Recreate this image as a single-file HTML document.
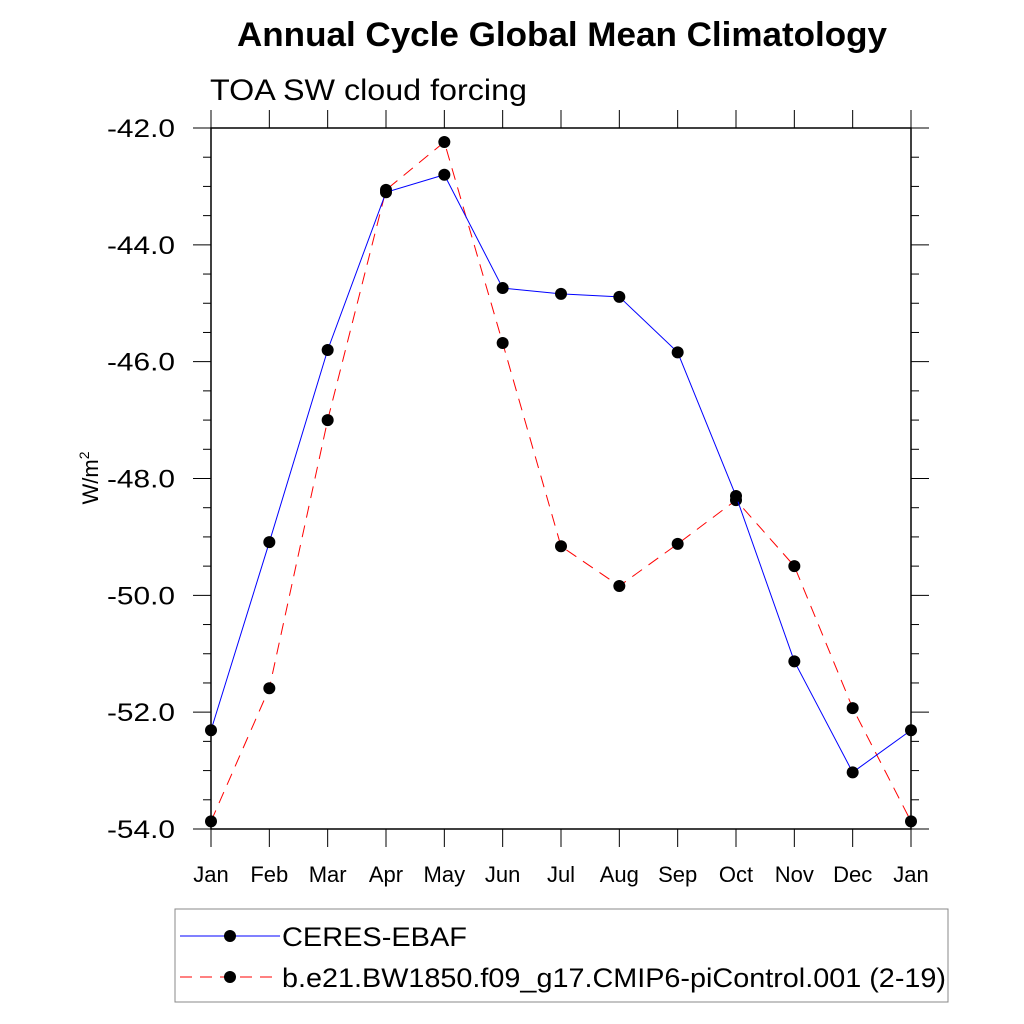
<!DOCTYPE html>
<html><head><meta charset="utf-8"><style>body{margin:0;background:#fff}svg{display:block}text{font-family:"Liberation Sans",sans-serif}</style></head>
<body>
<svg id="chart" width="1024" height="1024">
<text x="237" y="46" textLength="650" lengthAdjust="spacingAndGlyphs" font-size="34" font-weight="bold">Annual Cycle Global Mean Climatology</text>
<text x="210" y="100" textLength="317" lengthAdjust="spacingAndGlyphs" font-size="30">TOA SW cloud forcing</text>
<text transform="translate(98,478) rotate(-90)" text-anchor="middle" font-size="22">W/m<tspan dy="-9" font-size="14">2</tspan></text>
<g id="axes"></g>
<g id="series"></g>
<g>
<rect x="175" y="909" width="773" height="93" fill="none" stroke="#888" stroke-width="1"/>
<line x1="180" y1="936" x2="280" y2="936" stroke="#0000ff" stroke-width="1"/>
<circle cx="230" cy="936" r="6" fill="#000"/>
<text x="282" y="946" textLength="185" lengthAdjust="spacingAndGlyphs" font-size="27">CERES-EBAF</text>
<line x1="180" y1="977" x2="280" y2="977" stroke="#ff0000" stroke-width="1" stroke-dasharray="12,8"/>
<circle cx="230" cy="977" r="6" fill="#000"/>
<text x="282" y="987" textLength="664" lengthAdjust="spacingAndGlyphs" font-size="27">b.e21.BW1850.f09_g17.CMIP6-piControl.001 (2-19)</text>
</g>
</svg>
<script>
const months=["Jan","Feb","Mar","Apr","May","Jun","Jul","Aug","Sep","Oct","Nov","Dec","Jan"];
const ceres=[-52.31,-49.09,-45.80,-43.10,-42.80,-44.74,-44.84,-44.89,-45.84,-48.30,-51.13,-53.03,-52.31];
const model=[-53.87,-51.59,-47.00,-43.06,-42.24,-45.68,-49.16,-49.84,-49.12,-48.37,-49.50,-51.93,-53.87];
const yTicks=[-42,-44,-46,-48,-50,-52,-54];
const L=211,R=911,T=128,B=829,yMax=-42,yMin=-54;
const xs=i=>L+(R-L)*i/12;
const ys=v=>T+(yMax-v)/(yMax-yMin)*(B-T);
const NS="http://www.w3.org/2000/svg";
function mk(tag,at,parent){const e=document.createElementNS(NS,tag);for(const k in at)e.setAttribute(k,at[k]);parent.appendChild(e);return e;}
const ax=document.getElementById('axes'),se=document.getElementById('series');
const frame=mk('rect',{x:L,y:T,width:R-L,height:B-T,fill:'none',stroke:'#000','stroke-width':1.5},ax);


for(let v=yMax;v>=yMin-0.001;v-=0.5){
  const y=ys(v),maj=Math.abs(v-Math.round(v/2)*2)<0.01,len=maj?18:8;
  mk('line',{x1:L-len,y1:y,x2:L,y2:y,stroke:'#000','stroke-width':1},ax);
  mk('line',{x1:R,y1:y,x2:R+len,y2:y,stroke:'#000','stroke-width':1},ax);
}
yTicks.forEach(v=>{const t=mk('text',{x:175,y:ys(v)+9,'text-anchor':'end','font-size':25,textLength:68,lengthAdjust:'spacingAndGlyphs'},ax);t.textContent=v.toFixed(1);

});
months.forEach((m,i)=>{const x=xs(i);
  mk('line',{x1:x,y1:B,x2:x,y2:B+18,stroke:'#000','stroke-width':1},ax);
  mk('line',{x1:x,y1:T-18,x2:x,y2:T,stroke:'#000','stroke-width':1},ax);
  const t=mk('text',{x:x,y:882,'text-anchor':'middle','font-size':22},ax);t.textContent=m;
  
  });
function draw(vals,color,dash,name){
  const p=mk('polyline',{points:vals.map((v,i)=>xs(i)+','+ys(v)).join(' '),fill:'none',stroke:color,'stroke-width':1,'stroke-dasharray':dash},se);
  
  
  vals.forEach((v,i)=>{const c=mk('circle',{cx:xs(i),cy:ys(v),r:6,fill:'#000'},se);
    
    });
}
draw(model,'#ff0000','12,8','model');
draw(ceres,'#0000ff','none','ceres');
</script>
</body></html>
